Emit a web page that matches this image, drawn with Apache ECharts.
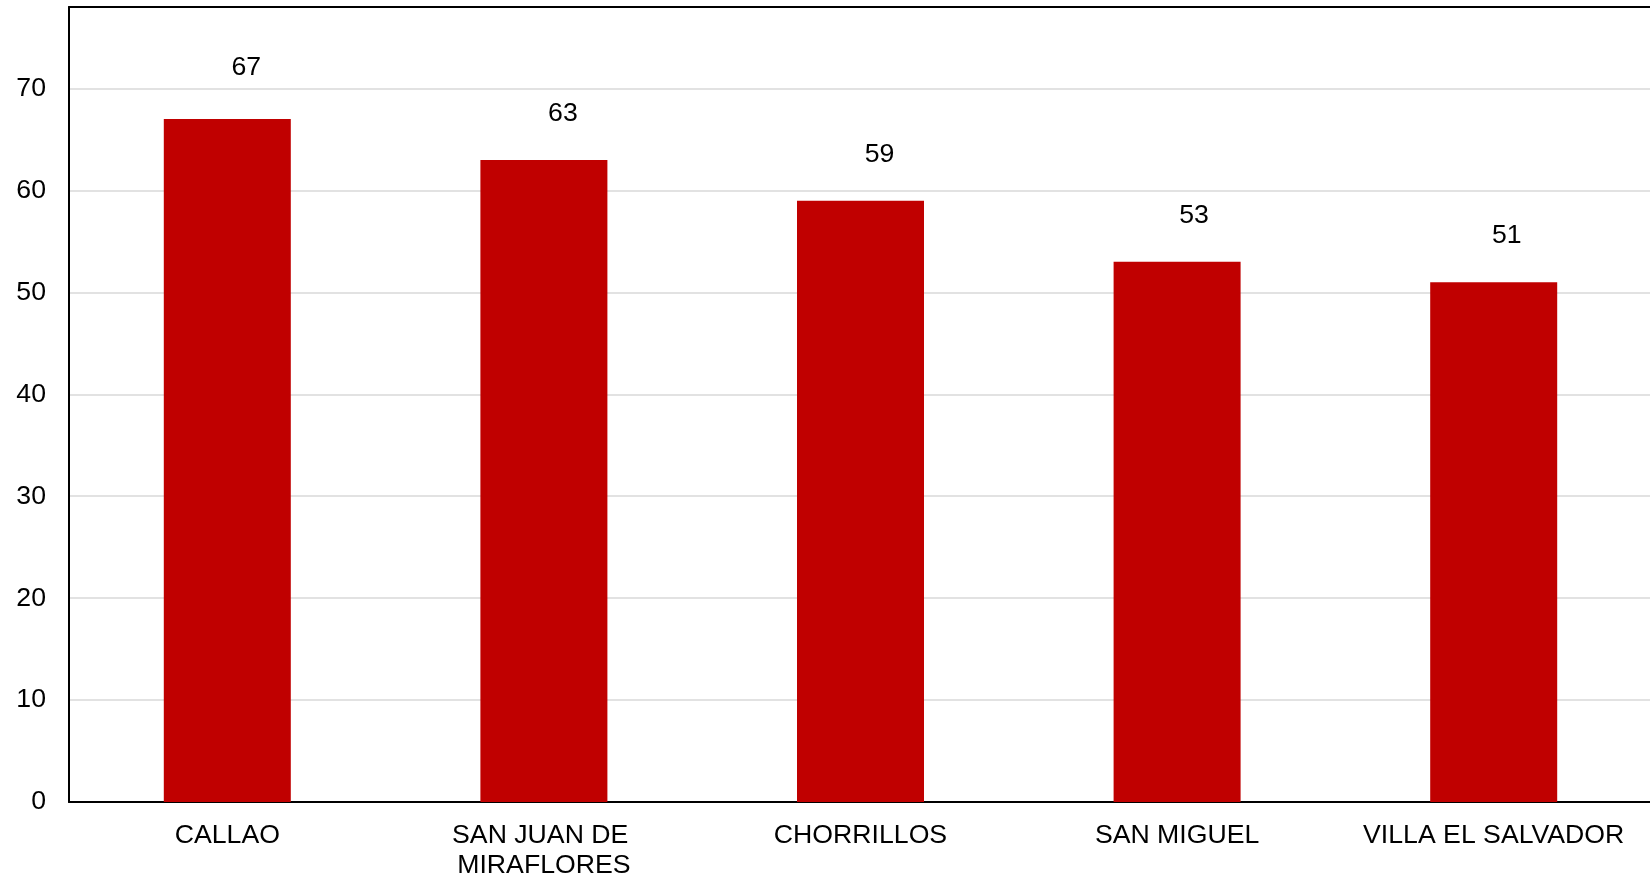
<!DOCTYPE html>
<html>
<head>
<meta charset="utf-8">
<script src="https://cdn.jsdelivr.net/npm/echarts@6/dist/echarts.min.js"></script>
<style>
html,body{margin:0;padding:0;background:#fff;}
#chart{width:1650px;height:877px;}
</style>
</head>
<body>
<div id="chart"></div>
<script>
const categories = ["CALLAO", "SAN JUAN DE MIRAFLORES", "CHORRILLOS", "SAN MIGUEL", "VILLA EL SALVADOR"];
const values = [67, 63, 59, 53, 51];
const yTicks = [0, 10, 20, 30, 40, 50, 60, 70];

// label placement tweaks (style only), matching the reference's label positions
const labelShift = [[19, -5], [19, 0], [19, 0], [17, 0], [13, 0]];

const FONT = '"Liberation Sans", Arial, sans-serif';
const FS = 26.67;
const chart = echarts.init(document.getElementById('chart'));
chart.setOption({
  animation: false,
  backgroundColor: '#ffffff',
  grid: {left: 69, right: -2, top: 7, bottom: 75, containLabel: false, outerBoundsMode: 'none'},
  xAxis: [{
    type: 'category',
    data: categories,
    axisLine: {show: true, lineStyle: {color: '#000', width: 2}},
    axisTick: {show: false},
    axisLabel: {
      interval: 0, color: '#000', fontFamily: FONT, fontSize: FS,
      margin: 19, lineHeight: 30, width: 300, overflow: 'break'
    }
  }, {
    type: 'category',
    position: 'top',
    data: categories,
    axisLine: {show: true, lineStyle: {color: '#000', width: 2}},
    axisTick: {show: false},
    axisLabel: {show: false}
  }],
  yAxis: {
    type: 'value',
    min: 0, max: 78, interval: 10,
    axisLine: {show: true, lineStyle: {color: '#000', width: 2}},
    axisTick: {show: false},
    splitLine: {show: true, lineStyle: {color: '#d9d9d9', width: 1.5}},
    axisLabel: {
      color: '#000', fontFamily: FONT, fontSize: FS, margin: 23,
      padding: [4, 0, 0, 0],
      formatter: function (v) { return yTicks.indexOf(v) >= 0 ? String(v) : ''; }
    }
  },
  series: [{
    type: 'bar',
    data: values.map(function (v, i) {
      return {value: v, label: {offset: labelShift[i]}};
    }),
    barWidth: 127,
    itemStyle: {color: '#C00000'},
    label: {
      show: true, position: 'top', distance: 33,
      color: '#000', fontFamily: FONT, fontSize: FS
    }
  }]
});
</script>
</body>
</html>
